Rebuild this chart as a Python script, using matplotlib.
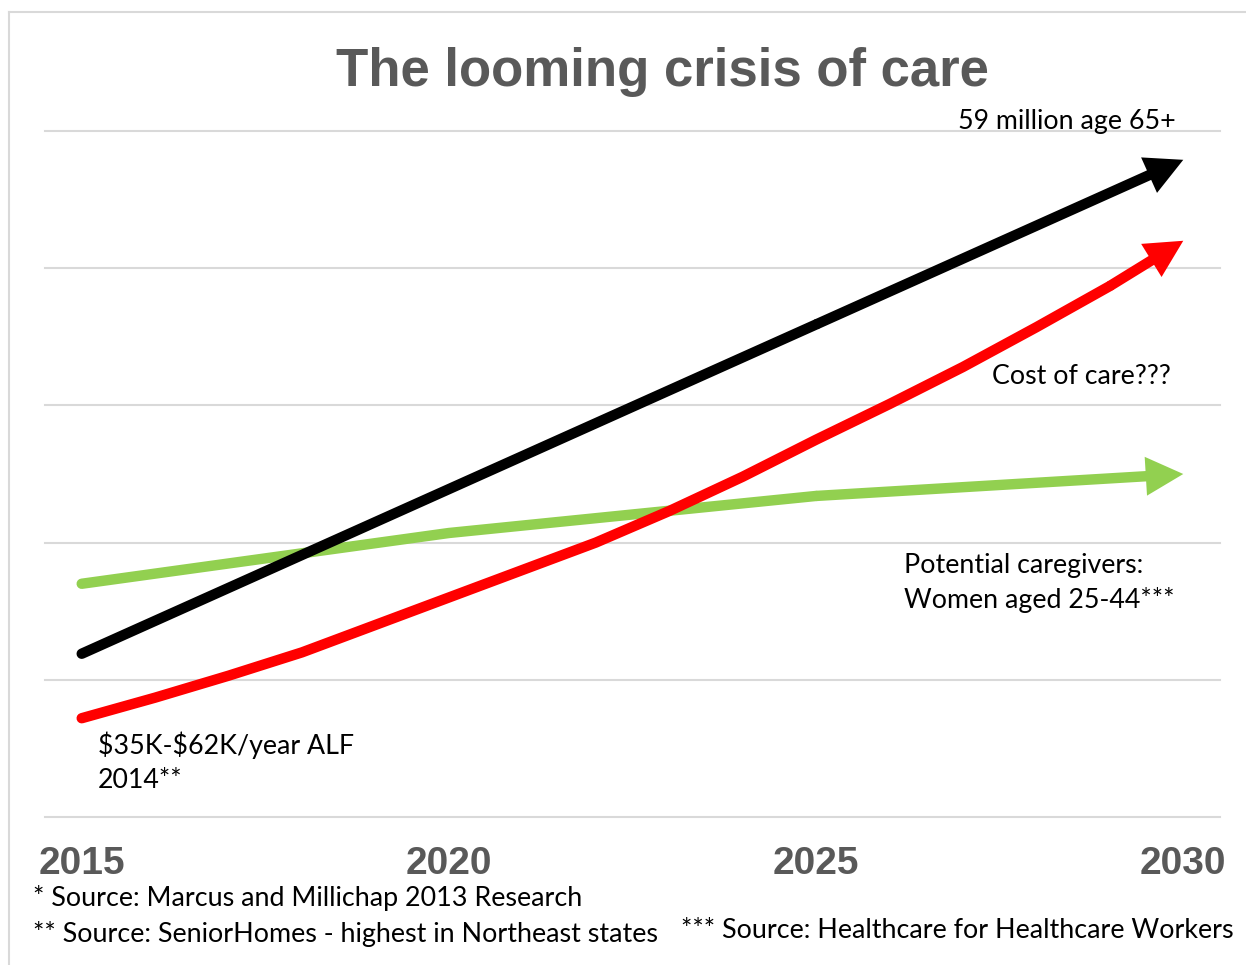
import matplotlib
matplotlib.use("Agg")
import matplotlib.pyplot as plt
from matplotlib.lines import Line2D

# ---- data -------------------------------------------------------------
years_5 = [2015, 2020, 2025, 2030]
seniors = [1.19, 2.39, 3.59, 4.79]            # population 65+ (relative)
caregivers = [1.70, 2.07, 2.34, 2.50]         # women aged 25-44 (relative)

years_1 = list(range(2015, 2031))
care_cost = [0.72, 0.87, 1.03, 1.20, 1.40, 1.60, 1.80, 2.00,
             2.23, 2.48, 2.75, 3.01, 3.28, 3.57, 3.87, 4.20]

tick_years = [2015, 2020, 2025, 2030]
tick_labels = ["2015", "2020", "2025", "2030"]
grid_levels = [0, 1, 2, 3, 4, 5]

title = "The looming crisis of care"
footnotes = [
    "* Source: Marcus and Millichap 2013 Research",
    "** Source: SeniorHomes - highest in Northeast states",
    "*** Source: Healthcare for Healthcare Workers",
]

# ---- figure -----------------------------------------------------------
W, H = 1246, 965
fig = plt.figure(figsize=(W / 100, H / 100), dpi=100)
fig.patch.set_facecolor("white")


def fx(px):
    return px / W


def fy(py):
    return 1 - py / H


GRAY_TXT = "#595959"
GRID = "#d9d9d9"
BODY_FONT = ["Lato", "DejaVu Sans"]
AXIS_FONT = ["Liberation Sans", "DejaVu Sans"]

# outer frame (left and top edges)
fig.add_artist(Line2D([fx(9), fx(9)], [fy(12), fy(H + 5)], color=GRID, lw=1.5,
                      transform=fig.transFigure))
fig.add_artist(Line2D([fx(9), fx(W + 5)], [fy(12), fy(12)], color=GRID, lw=1.5,
                      transform=fig.transFigure))

ax = fig.add_axes([fx(45), fy(817), fx(1220) - fx(45), fy(131) - fy(817)])
ax.set_xlim(2014.5, 2030.5)
ax.set_ylim(0, 5)
for s in ax.spines.values():
    s.set_visible(False)
ax.set_yticks([])
for lvl in grid_levels:
    ax.axhline(lvl, color=GRID, lw=1.5, zorder=0, clip_on=False)

ax.set_xticks(tick_years)
ax.set_xticklabels(tick_labels, fontsize=28, fontweight="bold",
                   color=GRAY_TXT, family=AXIS_FONT)
ax.tick_params(axis="x", length=0, pad=21)

LW = 7.5
HEAD = "simple,head_length=27,head_width=28,tail_width=%.1f" % LW


def arrow_line(xs, ys, color):
    ax.plot(xs[:-1], ys[:-1], color=color, lw=LW, solid_capstyle="round",
            solid_joinstyle="round", zorder=3, clip_on=False)
    ax.annotate("", xy=(xs[-1], ys[-1]), xytext=(xs[-2], ys[-2]),
                arrowprops=dict(arrowstyle=HEAD, mutation_scale=1, lw=0,
                                fc=color, ec="none", shrinkA=0, shrinkB=0),
                zorder=3, annotation_clip=False)


arrow_line(years_5, caregivers, "#92d050")
arrow_line(years_5, seniors, "#000000")
arrow_line(years_1, care_cost, "#ff0000")

# ---- text -------------------------------------------------------------
fig.text(fx(662), fy(72), title, ha="center", va="center", fontsize=38,
         fontweight="bold", color=GRAY_TXT, family=["Liberation Sans", "DejaVu Sans"])

TS = 19.3
notes = [
    (958, 121, "59 million age 65+"),
    (992, 376, "Cost of care???"),
    (904, 565, "Potential caregivers:"),
    (904, 600, "Women aged 25-44***"),
    (98, 745, r"\$35K-\$62K/year ALF"),
    (98, 780, "2014**"),
]
for px, py, s in notes:
    fig.text(fx(px), fy(py), s, ha="left", va="center",
             fontsize=TS, family=BODY_FONT, color="black")

FS = 19.4
for (px, py), s in zip([(33, 898), (33, 934), (681, 931)], footnotes):
    fig.text(fx(px), fy(py), s, ha="left", va="center",
             fontsize=FS, family=BODY_FONT, color="black")

fig.savefig("out.png", dpi=100)
